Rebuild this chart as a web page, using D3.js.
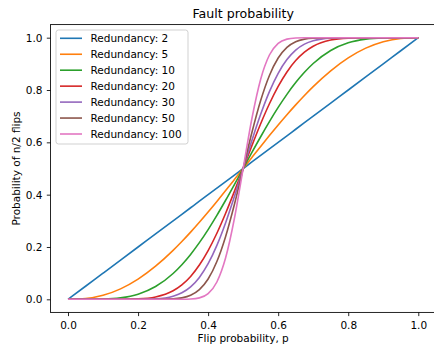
<!DOCTYPE html>
<html>
<head>
<meta charset="utf-8">
<script src="https://cdn.jsdelivr.net/npm/d3@7"></script>
<style>
  html, body { margin: 0; padding: 0; background: #fff; }
  svg { display: block; font-family: "DejaVu Sans", sans-serif; }
</style>
</head>
<body>
<svg id="chart" width="434" height="345"></svg>
<script>
// Flip probability values (x)
const flipP = [0, 0.05, 0.1, 0.15, 0.2, 0.25, 0.3, 0.325, 0.35, 0.375, 0.4, 0.425, 0.45, 0.475, 0.5,
               0.525, 0.55, 0.575, 0.6, 0.625, 0.65, 0.675, 0.7, 0.75, 0.8, 0.85, 0.9, 0.95, 1];

// Probability of n/2 flips for each redundancy
const red2   = [0, 0.05, 0.1, 0.15, 0.2, 0.25, 0.3, 0.325, 0.35, 0.375, 0.4, 0.425, 0.45, 0.475, 0.5,
                0.525, 0.55, 0.575, 0.6, 0.625, 0.65, 0.675, 0.7, 0.75, 0.8, 0.85, 0.9, 0.95, 1];
const red5   = [0, 0.0029, 0.0154, 0.0400, 0.0772, 0.1266, 0.1870, 0.2208, 0.2567, 0.2944, 0.3336, 0.3741, 0.4155, 0.4576, 0.5,
                0.5424, 0.5845, 0.6259, 0.6664, 0.7056, 0.7433, 0.7792, 0.8130, 0.8734, 0.9228, 0.9600, 0.9846, 0.9971, 1];
const red10  = [0, 0.0000, 0.0009, 0.0056, 0.0196, 0.0489, 0.0988, 0.1324, 0.1717, 0.2166, 0.2666, 0.3209, 0.3786, 0.4387, 0.5,
                0.5613, 0.6214, 0.6791, 0.7334, 0.7834, 0.8283, 0.8676, 0.9012, 0.9511, 0.9804, 0.9944, 0.9991, 1.0000, 1];
const red20  = [0, 0, 0, 0.0001, 0.0016, 0.0089, 0.0326, 0.0552, 0.0875, 0.1309, 0.1861, 0.2526, 0.3290, 0.4126, 0.5,
                0.5874, 0.6710, 0.7474, 0.8139, 0.8691, 0.9125, 0.9448, 0.9674, 0.9911, 0.9984, 0.9999, 1, 1, 1];
const red30  = [0, 0, 0, 0, 0.0001, 0.0018, 0.0117, 0.0248, 0.0476, 0.0838, 0.1362, 0.2063, 0.2930, 0.3929, 0.5,
                0.6071, 0.7070, 0.7937, 0.8638, 0.9162, 0.9524, 0.9752, 0.9883, 0.9982, 0.9999, 1, 1, 1, 1];
const red50  = [0, 0, 0, 0, 0, 0.0001, 0.0017, 0.0055, 0.0154, 0.0369, 0.0776, 0.1443, 0.2403, 0.3624, 0.5,
                0.6376, 0.7597, 0.8557, 0.9224, 0.9631, 0.9846, 0.9945, 0.9983, 0.9999, 1, 1, 1, 1, 1];
const red100 = [0, 0, 0, 0, 0, 0, 0, 0.0002, 0.0011, 0.0056, 0.0219, 0.0662, 0.1587, 0.3089, 0.5,
                0.6911, 0.8413, 0.9338, 0.9781, 0.9944, 0.9989, 0.9998, 1, 1, 1, 1, 1, 1, 1];

const seriesNames = ["Redundancy: 2", "Redundancy: 5", "Redundancy: 10", "Redundancy: 20",
                     "Redundancy: 30", "Redundancy: 50", "Redundancy: 100"];
const seriesValues = [red2, red5, red10, red20, red30, red50, red100];
const colors = ["#1f77b4", "#ff7f0e", "#2ca02c", "#d62728", "#9467bd", "#8c564b", "#e377c2"];

const xTicks = [0, 0.2, 0.4, 0.6, 0.8, 1.0];
const yTicks = [0, 0.2, 0.4, 0.6, 0.8, 1.0];

const titleText = "Fault probability";
const xLabel = "Flip probability, p";
const yLabel = "Probability of n/2 flips";

// Layout
const axL = 50.5, axR = 435.8, axT = 24.6, axB = 312.4;
const fs = 10.5;

const svg = d3.select("#chart");
const x = d3.scaleLinear().domain([-0.05, 1.05]).range([axL, axR]);
const y = d3.scaleLinear().domain([-0.05, 1.05]).range([axB, axT]);

// Lines
const line = d3.line()
  .x(d => x(d[0]))
  .y(d => y(d[1]))
  .curve(d3.curveMonotoneX);

const gLines = svg.append("g");
seriesValues.forEach((vals, i) => {
  gLines.append("path")
    .datum(flipP.map((p, j) => [p, vals[j]]))
    .attr("d", line)
    .attr("fill", "none")
    .attr("stroke", colors[i])
    .attr("stroke-width", 1.6)
    .attr("stroke-linejoin", "round")
    .attr("stroke-linecap", "butt");
});

// Spines
svg.append("rect")
  .attr("x", axL).attr("y", axT)
  .attr("width", axR - axL).attr("height", axB - axT)
  .attr("fill", "none").attr("stroke", "#000").attr("stroke-width", 0.85);

// Axes
const xAxis = d3.axisBottom(x).tickValues(xTicks).tickFormat(d3.format(".1f"))
  .tickSize(3.7).tickPadding(5.9).tickSizeOuter(0);
const gx = svg.append("g").attr("transform", `translate(0,${axB})`).call(xAxis);
gx.select(".domain").remove();
gx.selectAll("line").attr("stroke", "#000").attr("stroke-width", 0.85);
gx.selectAll("text").attr("font-size", fs).attr("fill", "#000")
  .attr("font-family", "DejaVu Sans, sans-serif");

const yAxis = d3.axisLeft(y).tickValues(yTicks).tickFormat(d3.format(".1f"))
  .tickSize(3.7).tickPadding(4.3).tickSizeOuter(0);
const gy = svg.append("g").attr("transform", `translate(${axL},0)`).call(yAxis);
gy.select(".domain").remove();
gy.selectAll("line").attr("stroke", "#000").attr("stroke-width", 0.85);
gy.selectAll("text").attr("font-size", fs).attr("fill", "#000")
  .attr("font-family", "DejaVu Sans, sans-serif");

// Title and labels
svg.append("text").attr("x", (axL + axR) / 2).attr("y", 17.5)
  .attr("text-anchor", "middle").attr("font-size", 12.6).attr("fill", "#000")
  .text(titleText);
svg.append("text").attr("x", (axL + axR) / 2).attr("y", 342)
  .attr("text-anchor", "middle").attr("font-size", fs).attr("fill", "#000")
  .text(xLabel);
svg.append("text")
  .attr("transform", `translate(19.5,${(axT + axB) / 2}) rotate(-90)`)
  .attr("text-anchor", "middle").attr("font-size", fs).attr("fill", "#000")
  .text(yLabel);

// Legend
const lg = svg.append("g");
lg.append("rect")
  .attr("x", 56).attr("y", 30).attr("width", 132).attr("height", 114)
  .attr("rx", 2.5).attr("ry", 2.5)
  .attr("fill", "#fff").attr("fill-opacity", 0.8)
  .attr("stroke", "#cccccc").attr("stroke-width", 0.9);
seriesNames.forEach((name, i) => {
  const cy = 38.3 + i * 15.95;
  lg.append("line")
    .attr("x1", 60).attr("x2", 82).attr("y1", cy).attr("y2", cy)
    .attr("stroke", colors[i]).attr("stroke-width", 1.6);
  lg.append("text")
    .attr("x", 90.5).attr("y", cy + 3.9)
    .attr("font-size", fs).attr("fill", "#000")
    .text(name);
});
</script>
</body>
</html>
